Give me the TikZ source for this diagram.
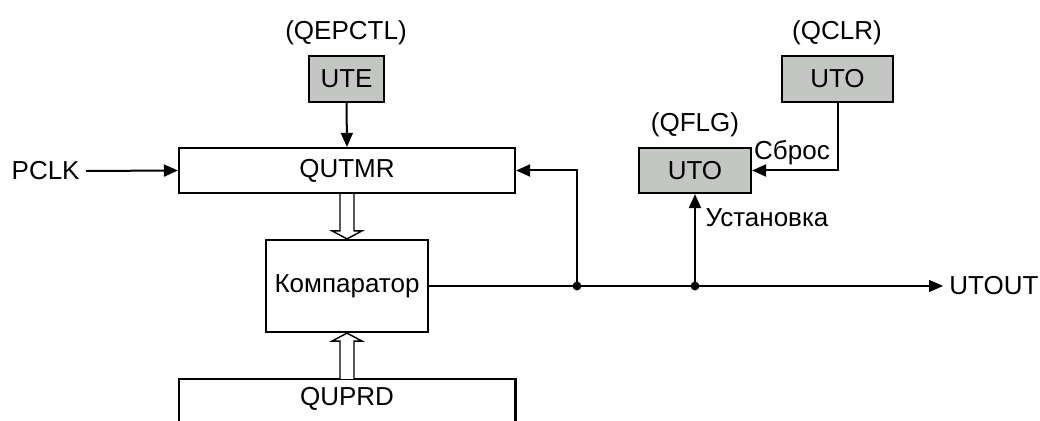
\documentclass[tikz,border=0pt]{standalone}
\usepackage{fontspec}
\setmainfont{Liberation Sans}
\usetikzlibrary{arrows.meta,calc}
\definecolor{regfill}{RGB}{196,198,196}
\tikzset{
  blk/.style={draw,line width=1.1pt,inner sep=0pt},
  reg/.style={blk,fill=regfill},
  sig/.style={line width=1pt,-{Triangle[length=7pt,width=6pt]}},
  wire/.style={line width=0.7pt},
  bus/.style={line width=0.7pt,fill=white},
}

\begin{document}
\begin{tikzpicture}[x=0.5pt,y=-0.5pt,font=\fontsize{13}{15}\selectfont]
\useasboundingbox (0,0) rectangle (1040,421);
\coordinate (bot) at (0,421);

% timer, comparator, period
\node[blk,minimum width=168pt,minimum height=22.5pt] (qutmr) at (347,170.5) {QUTMR};
\node[blk,minimum width=81pt,minimum height=46pt] (comp) at (347,286) {Компаратор};
\node[inner sep=0pt,minimum width=168pt,minimum height=19pt,anchor=north] (quprd) at (347,379) {QUPRD};
\draw[line width=1.1pt] (quprd.west |- bot) -- (quprd.north west) -- (quprd.north east) -- (quprd.east |- bot);

% unit timer registers
\node[reg,minimum width=37.5pt,minimum height=23pt] (ute) at (346.5,79) {UTE};
\node at (346,33) {(QEPCTL)};
\node[reg,minimum width=56pt,minimum height=22.5pt] (qflg) at (695,170.5) {UTO};
\node at (695,125) {(QFLG)};
\node[reg,minimum width=55.5pt,minimum height=23pt] (qclr) at (837.5,79) {UTO};
\node at (837,33) {(QCLR)};

% inputs and output
\node[anchor=east,inner sep=3pt] (pclk) at (86,171) {PCLK};
\node[anchor=west,inner sep=3pt] (utout) at (943,286) {UTOUT};
\coordinate (j1) at (577,286);
\coordinate (j2) at (695,286);

\draw[sig] (pclk.east) -- (qutmr.west);
\draw[sig] (ute.south) -- (qutmr.north);
\draw[wire] (comp.east) -- (j1) -- (j2);
\draw[sig,line width=0.7pt] (j2) -- (utout.west);
\draw[sig] (j1) |- (qutmr.east);
\draw[sig] (j2) -- (qflg.south);
\draw[sig] (qclr.south) |- (qflg.east);
\node at (767,218) {Установка};
\node at (792,153) {Сброс};
\fill (j1) circle[radius=2.2pt];
\fill (j2) circle[radius=2.2pt];

% buses
\draw[bus] ($(qutmr.south)+(-7,0)$) -- ($(comp.north)+(-7,-8)$) -- ($(comp.north)+(-15,-8)$) -- (comp.north)
  -- ($(comp.north)+(15,-8)$) -- ($(comp.north)+(7,-8)$) -- ($(qutmr.south)+(7,0)$);
\draw[bus] ($(quprd.north)+(-7,0)$) -- ($(comp.south)+(-7,8)$) -- ($(comp.south)+(-15,8)$) -- (comp.south)
  -- ($(comp.south)+(15,8)$) -- ($(comp.south)+(7,8)$) -- ($(quprd.north)+(7,0)$);

\end{tikzpicture}
\end{document}
